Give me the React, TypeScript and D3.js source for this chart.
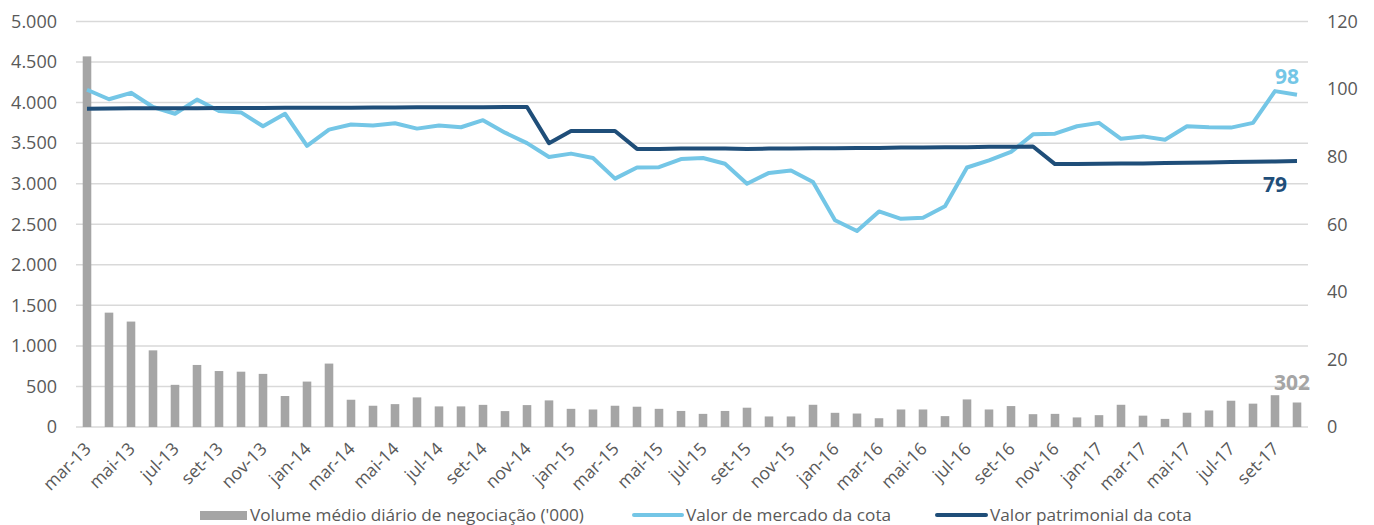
import React from "react";
import * as d3 from "d3";

const categories: string[] = [
  "mar-13","abr-13","mai-13","jun-13","jul-13","ago-13","set-13","out-13","nov-13","dez-13",
  "jan-14","fev-14","mar-14","abr-14","mai-14","jun-14","jul-14","ago-14","set-14","out-14","nov-14","dez-14",
  "jan-15","fev-15","mar-15","abr-15","mai-15","jun-15","jul-15","ago-15","set-15","out-15","nov-15","dez-15",
  "jan-16","fev-16","mar-16","abr-16","mai-16","jun-16","jul-16","ago-16","set-16","out-16","nov-16","dez-16",
  "jan-17","fev-17","mar-17","abr-17","mai-17","jun-17","jul-17","ago-17","set-17","out-17",
];

const volume: number[] = [
  4570, 1410, 1300, 945, 520, 765, 690, 682, 655, 382,
  560, 782, 336, 262, 282, 365, 254, 254, 273, 196, 270, 328,
  224, 216, 262, 250, 224, 198, 162, 198, 238, 130, 130, 274,
  175, 166, 108, 216, 216, 134, 340, 216, 258, 158, 162, 118,
  146, 274, 140, 100, 176, 204, 324, 288, 392, 302,
];

const mercado: number[] = [
  99.8, 97.0, 98.9, 94.7, 92.7, 96.9, 93.5, 93.1, 89.0, 92.7,
  83.2, 88.0, 89.5, 89.2, 89.9, 88.3, 89.2, 88.7, 90.8, 87.1, 84.0, 79.9,
  80.9, 79.6, 73.5, 76.8, 76.9, 79.3, 79.6, 77.9, 72.0, 75.2, 75.9, 72.5,
  61.2, 58.0, 63.8, 61.6, 61.9, 65.3, 76.8, 78.9, 81.4, 86.6, 86.8, 89.0,
  90.0, 85.3, 86.0, 85.0, 89.0, 88.7, 88.6, 90.0, 99.4, 98.3,
];

const patrimonial: number[] = [
  94.2, 94.25, 94.3, 94.3, 94.35, 94.35, 94.4, 94.4, 94.4, 94.45,
  94.45, 94.5, 94.5, 94.55, 94.55, 94.6, 94.6, 94.65, 94.65, 94.7, 94.7, 84.0,
  87.6, 87.6, 87.6, 82.3, 82.3, 82.4, 82.4, 82.4, 82.3, 82.4, 82.4, 82.5,
  82.5, 82.6, 82.6, 82.7, 82.7, 82.8, 82.8, 82.9, 82.9, 83.0, 77.8, 77.85,
  77.9, 77.95, 78.0, 78.1, 78.2, 78.3, 78.4, 78.5, 78.6, 78.7,
];

const leftTicks: number[] = [0, 500, 1000, 1500, 2000, 2500, 3000, 3500, 4000, 4500, 5000];
const rightTicks: number[] = [0, 20, 40, 60, 80, 100, 120];

const seriesNames = [
  "Volume médio diário de negociação ('000)",
  "Valor de mercado da cota",
  "Valor patrimonial da cota",
];
const labelMercado = "98";
const labelPatrimonial = "79";
const labelVolume = "302";

const W = 1374;
const H = 525;
const FONT = "'Open Sans', sans-serif";
const GREY_TEXT = "#595959";
const GRID = "#D9D9D9";
const BAR = "#A5A5A5";
const LIGHT = "#74C6E6";
const DARK = "#1F4E79";

export default function App() {
  const x = d3.scaleBand<string>().domain(categories).range([76, 1308]).padding(0);
  const yL = d3.scaleLinear().domain([0, 5000]).range([427, 21.5]);
  const yR = d3.scaleLinear().domain([0, 120]).range([427, 21.5]);
  const cx = (c: string) => (x(c) as number) + x.bandwidth() / 2;
  const barW = x.bandwidth() * 0.39;

  const lineM = d3
    .line<number>()
    .x((_, i) => cx(categories[i]))
    .y((d) => yR(d));

  const fmt = (v: number) => (v >= 1000 ? d3.format(",")(v).replace(",", ".") : String(v));
  const last = categories.length - 1;

  return (
    <svg
      width={W}
      height={H}
      style={{ position: "absolute", left: 0, top: 0, background: "#fff" }}
      fontFamily={FONT}
    >
      {leftTicks.map((t) => (
        <line key={"g" + t} x1={76} x2={1308} y1={yL(t)} y2={yL(t)} stroke={GRID} strokeWidth={1.5} />
      ))}
      {leftTicks.map((t) => (
        <text key={"l" + t} x={57} y={yL(t)} dy="0.35em" textAnchor="end" fontSize={18} fill={GREY_TEXT}>
          {fmt(t)}
        </text>
      ))}
      {rightTicks.map((t) => (
        <text key={"r" + t} x={1327} y={yR(t)} dy="0.35em" textAnchor="start" fontSize={18} fill={GREY_TEXT}>
          {t}
        </text>
      ))}
      {volume.map((v, i) => (
        <rect
          key={"b" + i}
          x={cx(categories[i]) - barW / 2}
          y={yL(v)}
          width={barW}
          height={yL(0) - yL(v)}
          fill={BAR}
        />
      ))}
      <path d={lineM(mercado) || ""} fill="none" stroke={LIGHT} strokeWidth={4} strokeLinejoin="round" />
      <path d={lineM(patrimonial) || ""} fill="none" stroke={DARK} strokeWidth={4} strokeLinejoin="round" />

      {categories.map((c, i) =>
        i % 2 === 0 ? (
          <text
            key={"x" + c}
            transform={`translate(${cx(c) + 5},${450}) rotate(-45)`}
            textAnchor="end"
            fontSize={17.5}
            fill={GREY_TEXT}
          >
            {c}
          </text>
        ) : null
      )}

      <text x={cx(categories[last]) - 10} y={yR(mercado[last]) - 11} textAnchor="middle" fontSize={21} fontWeight="bold" fill={LIGHT}>
        {labelMercado}
      </text>
      <text x={cx(categories[last]) - 22} y={yR(patrimonial[last]) + 31} textAnchor="middle" fontSize={21} fontWeight="bold" fill={DARK}>
        {labelPatrimonial}
      </text>
      <text x={cx(categories[last]) - 5} y={yL(volume[last - 1]) - 5} textAnchor="middle" fontSize={21} fontWeight="bold" fill={BAR}>
        {labelVolume}
      </text>

      <rect x={200} y={511} width={47} height={9} fill={BAR} />
      <text x={250} y={521} fontSize={17.2} fill={GREY_TEXT}>{seriesNames[0]}</text>
      <line x1={634} x2={682} y1={515} y2={515} stroke={LIGHT} strokeWidth={4} strokeLinecap="round" />
      <text x={686} y={521} fontSize={17.2} fill={GREY_TEXT}>{seriesNames[1]}</text>
      <line x1={937} x2={986} y1={515} y2={515} stroke={DARK} strokeWidth={4} strokeLinecap="round" />
      <text x={990} y={521} fontSize={17.2} fill={GREY_TEXT}>{seriesNames[2]}</text>
    </svg>
  );
}
